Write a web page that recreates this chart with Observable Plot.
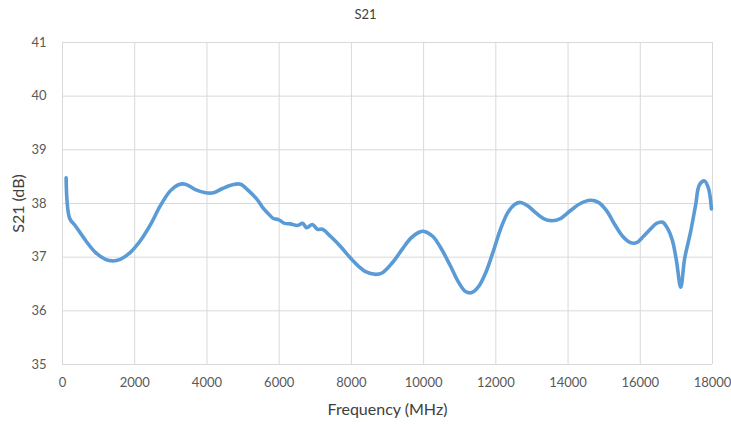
<!DOCTYPE html>
<html>
<head>
<meta charset="utf-8">
<script src="https://cdn.jsdelivr.net/npm/d3@7"></script>
<script src="https://cdn.jsdelivr.net/npm/@observablehq/plot@0.6"></script>
<style>
  html, body { margin: 0; padding: 0; background: #fff; }
  #wrap { width: 731px; height: 424px; font-family: Lato, "Open Sans", sans-serif; }
  #title { height: 28px; line-height: 28px; text-align: center; font-size: 13px; color: #404040; }
</style>
</head>
<body>
<div id="wrap">
  <div id="title">S21</div>
  <div id="chart"></div>
</div>
<script>
const freq = [100, 200, 350, 640, 910, 1190, 1380, 1600, 1880, 2160, 2440, 2710, 2990, 3210, 3400, 3680, 3960, 4180, 4430, 4710, 4930, 5150, 5370, 5540, 5700, 5840, 5980, 6150, 6310, 6510, 6650, 6760, 6920, 7060, 7200, 7420, 7700, 7980, 8200, 8390, 8670, 8860, 9140, 9420, 9640, 9860, 10020, 10250, 10470, 10740, 10970, 11160, 11330, 11520, 11720, 11910, 12130, 12330, 12520, 12680, 12880, 13100, 13320, 13540, 13790, 14070, 14340, 14620, 14840, 15060, 15310, 15510, 15730, 15900, 16090, 16290, 16450, 16620, 16760, 16890, 17000, 17120, 17230, 17390, 17530, 17640, 17780, 17890, 17970];
const s21 = [38.48, 37.72, 37.59, 37.31, 37.09, 36.96, 36.93, 36.96, 37.09, 37.31, 37.61, 37.96, 38.24, 38.35, 38.36, 38.26, 38.2, 38.2, 38.28, 38.35, 38.36, 38.24, 38.09, 37.93, 37.81, 37.72, 37.70, 37.63, 37.62, 37.59, 37.63, 37.55, 37.61, 37.52, 37.52, 37.39, 37.2, 36.98, 36.83, 36.73, 36.68, 36.71, 36.9, 37.16, 37.35, 37.46, 37.48, 37.39, 37.18, 36.84, 36.53, 36.36, 36.34, 36.45, 36.71, 37.07, 37.52, 37.83, 37.98, 38.02, 37.96, 37.83, 37.72, 37.68, 37.72, 37.87, 38.0, 38.06, 38.02, 37.87, 37.59, 37.39, 37.27, 37.27, 37.39, 37.53, 37.63, 37.65, 37.53, 37.31, 36.94, 36.44, 36.98, 37.46, 37.96, 38.35, 38.42, 38.28, 37.9];
const xTicks = [0, 2000, 4000, 6000, 8000, 10000, 12000, 14000, 16000, 18000];
const yTicks = [35, 36, 37, 38, 39, 40, 41];

const data = freq.map((f, i) => ({f, v: s21[i]}));

const chart = Plot.plot({
  width: 731,
  height: 396,
  marginTop: 14,
  marginBottom: 60,
  marginLeft: 62,
  marginRight: 19,
  style: {fontFamily: "Lato, 'Open Sans', sans-serif", fontSize: "13px", color: "#595959", background: "#fff"},
  x: {domain: [0, 18000]},
  y: {domain: [35, 41]},
  marks: [
    Plot.gridX(xTicks, {stroke: "#d9d9d9", strokeOpacity: 1}),
    Plot.gridY(yTicks, {stroke: "#d9d9d9", strokeOpacity: 1}),
    Plot.axisX({ticks: xTicks, tickSize: 0, tickPadding: 13, tickFormat: d => String(d), label: "Frequency (MHz)", labelAnchor: "center", labelOffset: 50, labelArrow: "none", fontSize: 13}),
    Plot.axisY({ticks: yTicks, tickSize: 0, tickPadding: 16, tickFormat: d => String(d), label: "S21 (dB)", labelAnchor: "center", labelOffset: 50, labelArrow: "none", fontSize: 13}),
    Plot.line(data, {x: "f", y: "v", stroke: "#5b9bd5", strokeWidth: 3.6, curve: "catmull-rom"})
  ]
});
document.getElementById("chart").appendChild(chart);
chart.querySelectorAll("g[aria-label='x-axis label'] text, g[aria-label='y-axis label'] text").forEach(t => { t.style.fontSize = "16px"; t.style.fill = "#404040"; });
</script>
</body>
</html>
